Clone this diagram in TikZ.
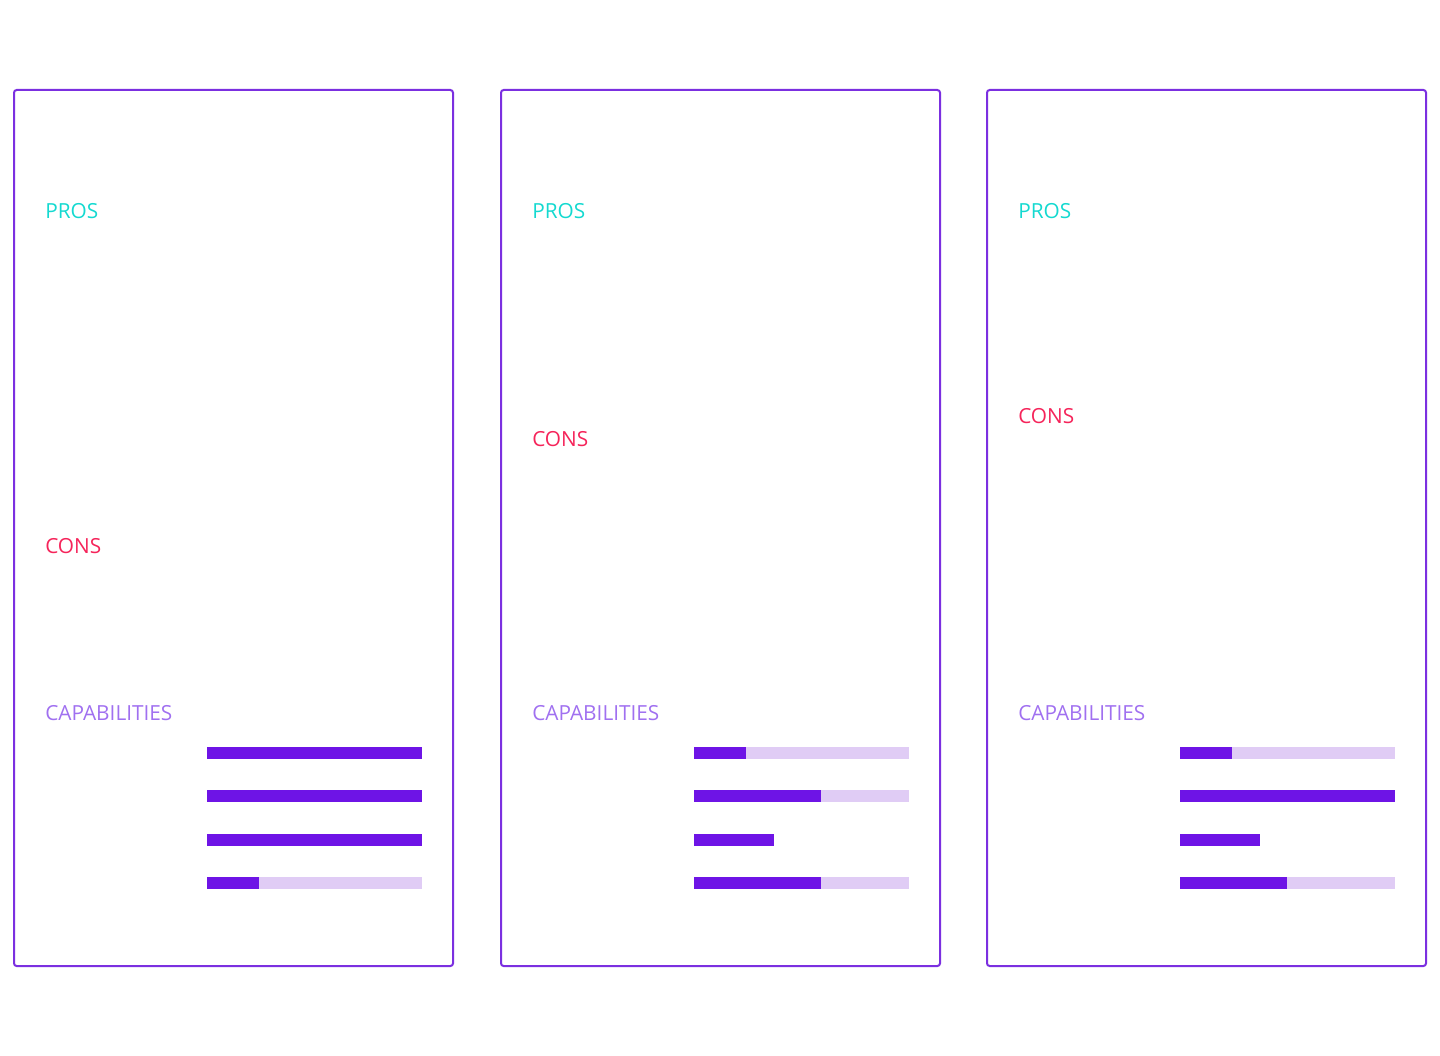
\documentclass[tikz,border=0pt]{standalone}
\usepackage{fontspec}
\setmainfont{Open Sans}
\usetikzlibrary{positioning}
\definecolor{frame}{HTML}{7B2FE0}
\definecolor{barfull}{HTML}{6E14E6}
\definecolor{barbg}{HTML}{E0CCF5}
\definecolor{proscol}{HTML}{14D9D0}
\definecolor{conscol}{HTML}{F5245A}
\definecolor{capcol}{HTML}{A070F0}
\tikzset{panel/.style={draw=frame, line width=1.5pt, rounded corners=2pt},
  heading/.style={anchor=west, inner sep=0pt, font=\fontsize{15.6}{18}\selectfont},
  track/.style={fill=barbg},
  level/.style={fill=barfull}}

\begin{document}
\begin{tikzpicture}[x=0.75pt,y=-0.75pt]
  \useasboundingbox (0,0) rectangle (1440,1056);

  % panels: left edge / y of CONS / bar fills / whether track shown
  \foreach \px/\cy/\fa/\fb/\fc/\fd/\tc [count=\i] in
      {14/546/215/215/215/52/1, 501/439/52/127/80/127/0, 987/416/52/215/80/107/0}{
    \draw[panel] (\px,90) rectangle ++(439,876);
    \node[heading, text=proscol] (pros\i) at (\px+31,211) {PROS};
    \node[heading, text=conscol] (cons\i) at (\px+31,\cy) {CONS};
    \node[heading, text=capcol] (cap\i) at (\px+31,713) {CAPABILITIES};
    \foreach \f/\y/\t [count=\j] in {\fa/753/1, \fb/796/1, \fc/840/\tc, \fd/883/1}{
      \ifnum\t=1 \fill[track] (\px+193,\y-6) rectangle ++(215,12); \fi
      \fill[level] (\px+193,\y-6) rectangle ++(\f,12);
    }
  }
\end{tikzpicture}
\end{document}
